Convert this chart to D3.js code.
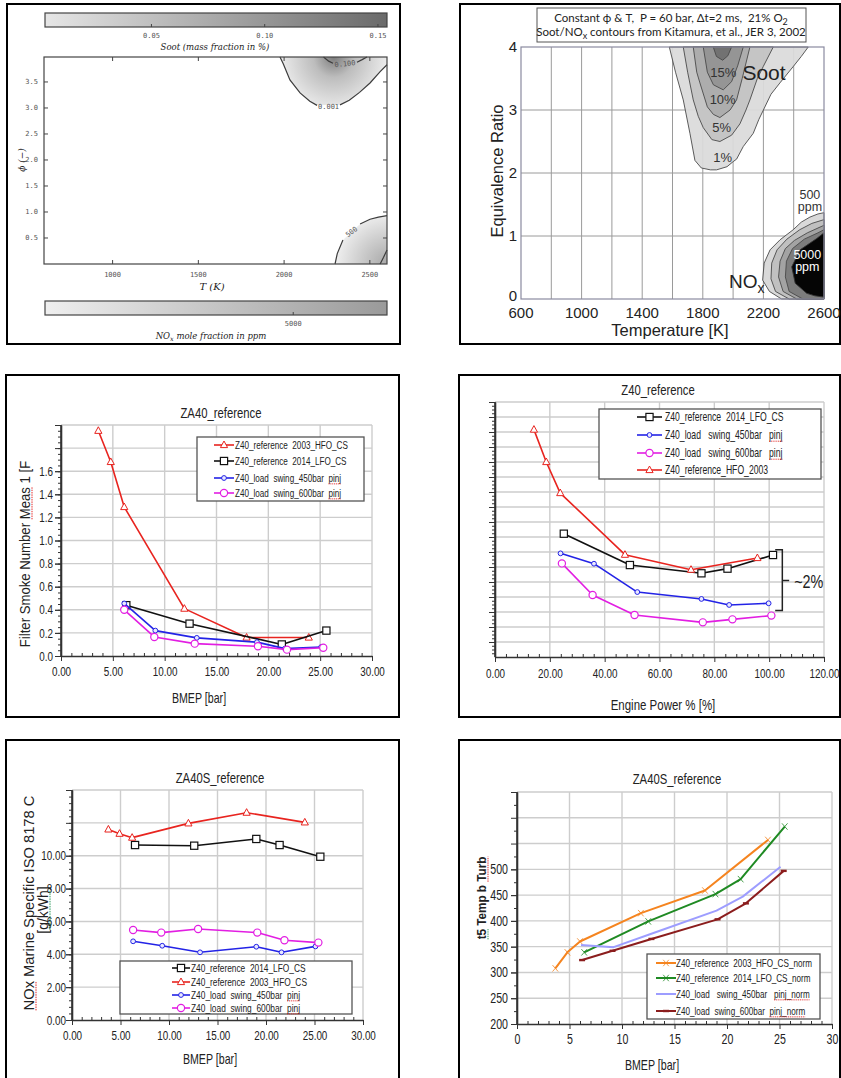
<!DOCTYPE html>
<html>
<head>
<meta charset="utf-8">
<script src="https://cdn.jsdelivr.net/npm/d3@7/dist/d3.min.js"></script>
<style>
  html,body{margin:0;padding:0;background:#fff;}
  svg{display:block;}
  text{white-space:pre;}
</style>
</head>
<body>
<svg id="fig" width="841" height="1078"></svg>
<script>
// ===================== DATA =====================

// --- model map: soot and NOx over temperature / equivalence ratio ---
const mapTempTicks = [1000, 1500, 2000, 2500];
const mapPhiTicks = [0.5, 1.0, 1.5, 2.0, 2.5, 3.0, 3.5];
const sootBarTicks = [0.05, 0.10, 0.15];
const noxBarTicks = [5000];
// contour 0.001 (two pieces around its label)
const soot001A = [[1976,3.98],[1995,3.85],[2034,3.54],[2093,3.29],[2150,3.13],[2192,3.05]];
const soot001B = [[2326,3.06],[2380,3.15],[2440,3.3],[2501,3.48],[2560,3.7],[2600,3.83]];
// contour 0.100
const soot100A = [[2230,3.98],[2260,3.9],[2285,3.86]];
const soot100B = [[2425,3.88],[2455,3.93],[2483,3.98]];
// NOx contours (ppm)
const nox500A = [[2297,0],[2310,0.2],[2343,0.46]];
const nox500B = [[2443,0.77],[2501,0.86],[2550,0.9],[2600,0.93]];
const nox5000 = [[2560,0],[2580,0.13],[2600,0.27]];

// --- Kitamura soot / NOx map ---
const kitTempTicks = [600, 1000, 1400, 1800, 2200, 2600];
const kitTempGrid = [800, 1000, 1200, 1400, 1600, 1800, 2000, 2200, 2400];
const kitPhiTicks = [0, 1, 2, 3, 4];
const kitSoot1 = [[1579,4],[1620,3.6],[1671,3.16],[1715,2.63],[1748,2.2],[1790,2.08],[1850,2.05],[1891,2.05],[1960,2.1],[2000,2.18],[2023,2.22],[2067,2.42],[2133,2.63],[2170,2.85],[2200,3.0],[2250,3.25],[2309,3.43],[2397,3.69],[2450,3.85],[2496,4]];
const kitSoot5 = [[1671,4],[1700,3.6],[1737,3.16],[1770,2.9],[1803,2.72],[1860,2.53],[1913,2.5],[1990,2.6],[2045,2.78],[2085,3.0],[2111,3.16],[2160,3.5],[2199,3.69],[2265,4]];
const kitSoot10 = [[1737,4],[1760,3.6],[1781,3.43],[1830,3.05],[1870,2.93],[1913,2.88],[1980,3.0],[2023,3.16],[2060,3.5],[2111,4]];
const kitSoot15 = [[1803,4],[1830,3.6],[1870,3.4],[1935,3.32],[1990,3.45],[2030,3.7],[2067,4]];
const kitSoot20 = [[1869,4],[1890,3.85],[1931,3.79],[1965,3.86],[1990,4]];
const kitNox1 = [[2320,0],[2240,0.12],[2195,0.3],[2205,0.57],[2244,0.78],[2310,0.94],[2397,1.1],[2450,1.22],[2507,1.3],[2560,1.35],[2600,1.37],[2600,0]];
const kitNox2 = [[2370,0],[2280,0.12],[2250,0.32],[2255,0.57],[2290,0.78],[2355,0.95],[2440,1.1],[2520,1.2],[2600,1.26],[2600,0]];
const kitNox3 = [[2420,0],[2330,0.12],[2300,0.35],[2310,0.6],[2345,0.8],[2405,0.93],[2490,1.05],[2600,1.17],[2600,0]];
const kitNox4 = [[2460,0],[2370,0.12],[2345,0.35],[2352,0.6],[2392,0.8],[2470,0.95],[2560,1.05],[2600,1.1],[2600,0]];
const kitNoxCore = [[2600,0.03],[2540,0.05],[2486,0.09],[2410,0.25],[2387,0.51],[2442,0.78],[2552,0.96],[2600,1.05]];

// --- filter smoke number vs BMEP ---
const bmepTicks = [0, 5, 10, 15, 20, 25, 30];
const fsnTicks = [0, 0.2, 0.4, 0.6, 0.8, 1.0, 1.2, 1.4, 1.6];
const fsnGrid = [0.2, 0.4, 0.6, 0.8, 1.0, 1.2, 1.4, 1.6, 1.8, 2.0];
const fsnHFO2003 = [[3.6,1.95],[4.8,1.68],[6.1,1.29],[11.9,0.41],[17.9,0.16],[23.9,0.16]];
const fsnLFO2014 = [[6.3,0.44],[12.4,0.28],[21.3,0.10],[25.6,0.22]];
const fsnLS450 = [[6.1,0.455],[9.1,0.22],[13.1,0.157],[18.9,0.12],[21.6,0.064],[25.1,0.078]];
const fsnLS600 = [[6.1,0.40],[9.0,0.165],[12.9,0.107],[19.0,0.084],[21.8,0.055],[25.3,0.072]];

// --- relative fuel consumption vs engine power (unlabelled axis, 0.5 % per grid step) ---
const powerTicks = [0, 20, 40, 60, 80, 100, 120];
const fcGrid = [1,2,3,4,5,6,7,8,9,10,11,12,13,14,15,16,17];
const fcLFO2014 = [[25.1,8.22],[49.2,6.13],[75.3,5.58],[84.8,5.89],[101.4,6.8]];
const fcLS450 = [[23.9,6.91],[36.1,6.22],[51.9,4.33],[75.3,3.87],[85.4,3.47],[99.8,3.58]];
const fcLS600 = [[24.4,6.24],[35.6,4.13],[50.9,2.8],[75.8,2.31],[86.6,2.51],[100.8,2.76]];
const fcHFO2003 = [[14.2,15.16],[18.7,13.0],[23.8,10.93],[47.4,6.82],[71.5,5.82],[95.7,6.6]];

// --- specific NOx vs BMEP ---
const noxTicks = [0, 2, 4, 6, 8, 10];
const noxGrid = [2, 4, 6, 8, 10, 12, 14];
const noxLFO2014 = [[6.5,10.65],[12.6,10.61],[19.0,11.02],[21.4,10.65],[25.6,9.94]];
const noxHFO2003 = [[3.75,11.6],[4.9,11.34],[6.2,11.1],[12.0,11.97],[18.0,12.62],[24.0,12.03]];
const noxLS450 = [[6.3,4.79],[9.3,4.52],[13.2,4.12],[19.0,4.46],[21.6,4.12],[25.1,4.48]];
const noxLS600 = [[6.3,5.48],[9.2,5.32],[13.0,5.54],[19.1,5.32],[21.9,4.85],[25.4,4.71]];

// --- turbine inlet temperature t5 vs BMEP ---
const t5Ticks = [200, 250, 300, 350, 400, 450, 500];
const t5Grid = [250, 300, 350, 400, 450, 500, 550, 600, 650];
const t5HFO2003 = [[3.65,308],[4.8,339],[6.0,360],[11.8,415],[17.9,459],[23.9,557]];
const t5LFO2014 = [[6.4,339],[12.5,399],[18.9,452],[21.3,481],[25.5,583]];
const t5LS450 = [[6.1,353],[9.2,349],[13.2,378],[19.0,420],[21.5,447],[25.1,505]];
const t5LS600 = [[6.2,324],[9.1,342],[12.8,365],[19.1,403],[21.8,434],[25.4,497]];

// ===================== DRAWING =====================
const svg = d3.select('#fig');
const SANS = "'Liberation Sans',Arial,sans-serif";
const GRID = '#cdcdcd';
const defs = svg.append('defs');

// panel frames
[[7,4,393,340],[460,4,380,340],[6,375,393,342],[459,375,381,342],[6,740,393,342],[459,740,381,342]]
  .forEach(([x,y,w,h]) => svg.append('rect').attr('x',x).attr('y',y).attr('width',w).attr('height',h)
    .attr('fill','none').attr('stroke','#000').attr('stroke-width',2));

// spell-check style underline below part of a text element
function squiggle(textSel, sub, color) {
  const node = textSel.node();
  const i = node.textContent.indexOf(sub);
  if (i < 0) return;
  const s = node.getStartPositionOfChar(i), e = node.getEndPositionOfChar(i + sub.length - 1);
  d3.select(node.parentNode).append('line')
    .attr('x1', s.x).attr('x2', e.x).attr('y1', s.y + 2).attr('y2', e.y + 2)
    .attr('stroke', color).attr('stroke-width', 1).attr('stroke-dasharray', '1.5,1');
}

// condensed text: regular face squeezed horizontally (optionally rotated)
function ntext(parent, x, y, str, o) {
  const gg = parent.append('g')
    .attr('transform', `translate(${x},${y})${o.rot ? ` rotate(${o.rot})` : ''} scale(${o.sx || 1},1)`);
  return gg.append('text').attr('text-anchor', o.anchor || 'start').attr('dy', o.dy || null)
    .attr('font-family', o.font || SANS).attr('font-size', o.size).attr('font-weight', o.weight || 'normal')
    .attr('fill', o.fill || '#222').text(str);
}

// ---------- Panel 1: model soot / NOx map ----------
(function(){
  const g = svg.append('g');
  const x = d3.scaleLinear().domain([600,2600]).range([44,387]);
  const y = d3.scaleLinear().domain([0,3.98]).range([264,57]);
  const line = d3.line().x(d=>x(d[0])).y(d=>y(d[1]));

  const sg = defs.append('radialGradient').attr('id','sootFill').attr('gradientUnits','userSpaceOnUse')
    .attr('cx', x(2290)).attr('cy', y(3.98)).attr('r', 58);
  sg.append('stop').attr('offset',0).attr('stop-color','#7c7c7c');
  sg.append('stop').attr('offset',0.35).attr('stop-color','#bdbdbd');
  sg.append('stop').attr('offset',1).attr('stop-color','#f2f2f2');
  const ng = defs.append('radialGradient').attr('id','noxFill').attr('gradientUnits','userSpaceOnUse')
    .attr('cx', x(2600)).attr('cy', y(0)).attr('r', 55);
  ng.append('stop').attr('offset',0).attr('stop-color','#a8a8a8');
  ng.append('stop').attr('offset',1).attr('stop-color','#f4f4f4');
  const cb1 = defs.append('linearGradient').attr('id','cbSoot');
  cb1.append('stop').attr('offset',0).attr('stop-color','#e6e6e6');
  cb1.append('stop').attr('offset',1).attr('stop-color','#6a6a6a');
  const cb2 = defs.append('linearGradient').attr('id','cbNox');
  cb2.append('stop').attr('offset',0).attr('stop-color','#efefef');
  cb2.append('stop').attr('offset',1).attr('stop-color','#9a9a9a');

  g.append('path').attr('d', line([...soot001A, ...soot001B, [2600,3.98], [1976,3.98]]) + 'Z')
    .attr('fill','url(#sootFill)');
  g.append('path').attr('d', line([...nox500A, ...nox500B, [2600,0], [2297,0]]) + 'Z')
    .attr('fill','url(#noxFill)');
  [soot001A, soot001B, soot100A, soot100B, nox500A, nox500B, nox5000].forEach(c =>
    g.append('path').attr('d', line(c)).attr('fill','none').attr('stroke','#3c3c3c').attr('stroke-width',1.2));

  const mono = "'DejaVu Sans Mono',monospace";
  const lab = (t, tx, ty, rot) => g.append('text').attr('transform',`translate(${x(tx)},${y(ty)}) rotate(${rot})`)
    .attr('text-anchor','middle').attr('dy','0.35em').attr('font-family',mono)
    .attr('font-size',7).attr('fill','#555').text(t);
  lab('0.001', 2259, 3.03, 0);
  lab('0.100', 2355, 3.85, -6);
  lab('500', 2393, 0.62, -38);

  // frame with inward ticks on all sides
  g.append('rect').attr('x',44).attr('y',57).attr('width',343).attr('height',207)
    .attr('fill','none').attr('stroke','#444').attr('stroke-width',1.2);
  mapTempTicks.forEach(t => {
    g.append('line').attr('x1',x(t)).attr('x2',x(t)).attr('y1',264).attr('y2',260).attr('stroke','#444');
    g.append('line').attr('x1',x(t)).attr('x2',x(t)).attr('y1',57).attr('y2',61).attr('stroke','#444');
  });
  mapPhiTicks.forEach(p => {
    g.append('line').attr('x1',44).attr('x2',48).attr('y1',y(p)).attr('y2',y(p)).attr('stroke','#444');
    g.append('line').attr('x1',387).attr('x2',383).attr('y1',y(p)).attr('y2',y(p)).attr('stroke','#444');
  });
  g.selectAll('.xt').data(mapTempTicks).join('text').attr('x',d=>x(d)).attr('y',277)
    .attr('text-anchor','middle').attr('font-family',mono).attr('font-size',7).attr('fill','#555').text(d=>d);
  g.selectAll('.yt').data(mapPhiTicks).join('text').attr('x',38).attr('y',d=>y(d)).attr('dy','0.35em')
    .attr('text-anchor','end').attr('font-family',mono).attr('font-size',7).attr('fill','#555').text(d=>d.toFixed(1));

  const serif = "'DejaVu Serif','Liberation Serif',serif";
  g.append('text').attr('x',212).attr('y',290).attr('text-anchor','middle').attr('font-family',serif)
    .attr('font-style','italic').attr('font-size',10).attr('fill','#222').text('T (K)');
  g.append('text').attr('transform','translate(25,160) rotate(-90)').attr('text-anchor','middle')
    .attr('font-family',serif).attr('font-style','italic').attr('font-size',9).attr('fill','#222').text('ϕ (−)');

  // colour bars
  const cbS = d3.scaleLinear().domain([0.003,0.154]).range([45,387]);
  g.append('rect').attr('x',45).attr('y',13).attr('width',342).attr('height',14)
    .attr('fill','url(#cbSoot)').attr('stroke','#444').attr('stroke-width',1.2);
  sootBarTicks.forEach(v => {
    g.append('line').attr('x1',cbS(v)).attr('x2',cbS(v)).attr('y1',27).attr('y2',24).attr('stroke','#444');
    g.append('text').attr('x',cbS(v)).attr('y',38).attr('text-anchor','middle').attr('font-family',mono)
      .attr('font-size',7).attr('fill','#555').text(v.toFixed(2));
  });
  g.append('text').attr('x',215).attr('y',50).attr('text-anchor','middle').attr('font-family',serif)
    .attr('font-style','italic').attr('font-size',8.5).attr('fill','#222').text('Soot (mass fraction in %)');

  const cbN = d3.scaleLinear().domain([500,6700]).range([45,387]);
  g.append('rect').attr('x',45).attr('y',301).attr('width',342).attr('height',14)
    .attr('fill','url(#cbNox)').attr('stroke','#444').attr('stroke-width',1.2);
  noxBarTicks.forEach(v => {
    g.append('line').attr('x1',cbN(v)).attr('x2',cbN(v)).attr('y1',315).attr('y2',312).attr('stroke','#444');
    g.append('text').attr('x',cbN(v)).attr('y',326).attr('text-anchor','middle').attr('font-family',mono)
      .attr('font-size',7).attr('fill','#555').text(v);
  });
  const nt = g.append('text').attr('x',211).attr('y',339).attr('text-anchor','middle').attr('font-family',serif)
    .attr('font-style','italic').attr('font-size',8.5).attr('fill','#222');
  nt.append('tspan').text('NO');
  nt.append('tspan').attr('dy',2).attr('font-size',6.5).text('x');
  nt.append('tspan').attr('dy',-2).text(' mole fraction in ppm');
})();

// ---------- Panel 2: Kitamura soot / NOx contours ----------
(function(){
  const g = svg.append('g');
  const x = d3.scaleLinear().domain([600,2600]).range([521,824]);
  const y = d3.scaleLinear().domain([0,4]).range([299,47]);
  const line = d3.line().x(d=>x(d[0])).y(d=>y(d[1]));

  g.selectAll('.gx').data(kitTempGrid).join('line').attr('x1',d=>x(d)).attr('x2',d=>x(d))
    .attr('y1',47).attr('y2',299).attr('stroke','#9a9a9a').attr('stroke-width',1);
  g.selectAll('.gy').data([1,2,3]).join('line').attr('y1',d=>y(d)).attr('y2',d=>y(d))
    .attr('x1',521).attr('x2',824).attr('stroke','#9a9a9a').attr('stroke-width',1);

  const fills = [[kitSoot1,'#dadada'],[kitSoot5,'#c3c3c3'],[kitSoot10,'#ababab'],[kitSoot15,'#939393'],[kitSoot20,'#6f6f6f'],
                 [kitNox1,'#d6d6d6'],[kitNox2,'#bdbdbd'],[kitNox3,'#a0a0a0'],[kitNox4,'#7a7a7a']];
  fills.forEach(([p,c]) => g.append('path').attr('d', line(p)+'Z').attr('fill',c).attr('fill-opacity',0.93)
    .attr('stroke','#4a4a4a').attr('stroke-width',0.9));
  g.append('path').attr('d', line([...kitNoxCore,[2600,0.03]])+'Z').attr('fill','#050505')
    .attr('stroke','#333').attr('stroke-width',0.9);

  g.append('rect').attr('x',521).attr('y',47).attr('width',303).attr('height',252)
    .attr('fill','none').attr('stroke','#8a8aa0').attr('stroke-width',1.2);

  const txt = (t, tx, ty, size, color) => g.append('text').attr('x',x(tx)).attr('y',y(ty)).attr('dy','0.35em')
    .attr('text-anchor','middle').attr('font-family',SANS).attr('font-size',size).attr('fill',color).text(t);
  txt('15%', 1935, 3.6, 13, '#333');
  txt('10%', 1931, 3.17, 13, '#333');
  txt('5%', 1925, 2.72, 13, '#333');
  txt('1%', 1931, 2.25, 13, '#333');
  txt('Soot', 2204, 3.6, 21, '#222');
  txt('500', 2507, 1.66, 12.5, '#333');
  txt('ppm', 2507, 1.46, 12.5, '#333');
  txt('5000', 2490, 0.70, 12.5, '#fff');
  txt('ppm', 2490, 0.51, 12.5, '#fff');
  const nox = g.append('text').attr('x',x(2090)).attr('y',y(0.28)).attr('dy','0.35em').attr('text-anchor','middle')
    .attr('font-family',SANS).attr('font-size',19).attr('fill','#222');
  nox.append('tspan').text('NO');
  nox.append('tspan').attr('dy',5).attr('font-size',14).text('x');

  g.selectAll('.xl').data(kitTempTicks).join('text').attr('x',d=>x(d)).attr('y',318)
    .attr('text-anchor','middle').attr('font-family',SANS).attr('font-size',15).attr('fill','#222').text(d=>d);
  g.selectAll('.yl').data(kitPhiTicks).join('text').attr('x',517).attr('y',d=>y(d) - (d === 0 ? 3 : 0)).attr('dy','0.3em')
    .attr('text-anchor','end').attr('font-family',SANS).attr('font-size',15).attr('fill','#222').text(d=>d);
  g.append('text').attr('x',670).attr('y',336).attr('text-anchor','middle').attr('font-family',SANS)
    .attr('font-size',16.5).attr('fill','#222').text('Temperature [K]');
  g.append('text').attr('transform','translate(503,171) rotate(-90)').attr('text-anchor','middle')
    .attr('font-family',SANS).attr('font-size',16.5).attr('fill','#222').text('Equivalence Ratio');

  // header box
  g.append('rect').attr('x',537).attr('y',8).attr('width',269).attr('height',34)
    .attr('fill','#fff').attr('stroke','#555').attr('stroke-width',1);
  const hf = "Lato,'Liberation Sans',sans-serif";
  const h1 = g.append('text').attr('x',671).attr('y',22).attr('text-anchor','middle').attr('font-family',hf)
    .attr('font-size',11.5).attr('fill','#222');
  h1.append('tspan').text('Constant ϕ & T,  P = 60 bar, Δt=2 ms,  21% O');
  h1.append('tspan').attr('dy',3).attr('font-size',9).text('2');
  const h2 = g.append('text').attr('x',671).attr('y',36).attr('text-anchor','middle').attr('font-family',hf)
    .attr('font-size',11.5).attr('fill','#222');
  h2.append('tspan').text('Soot/NO');
  h2.append('tspan').attr('dy',3).attr('font-size',9).text('x');
  h2.append('tspan').attr('dy',-3).text(' contours from Kitamura, et al., JER 3, 2002');
})();

// ---------- generic measured-data line chart ----------
function marker(sel, type, color) {
  if (type === 'tri') sel.append('path').attr('d','M0,-4L3.6,2.6L-3.6,2.6Z').attr('fill','#fff').attr('stroke',color).attr('stroke-width',1);
  else if (type === 'sq') sel.append('rect').attr('x',-3.6).attr('y',-3.6).attr('width',7.2).attr('height',7.2).attr('fill','#fff').attr('stroke',color).attr('stroke-width',1.2);
  else if (type === 'dot') sel.append('circle').attr('r',2.4).attr('fill','#e8e8ff').attr('stroke',color).attr('stroke-width',1);
  else if (type === 'circ') sel.append('circle').attr('r',3.6).attr('fill','#fff').attr('stroke',color).attr('stroke-width',1.2);
  else if (type === 'x') sel.append('path').attr('d','M-2.8,-3.2L2.8,3.2M-2.8,3.2L2.8,-3.2').attr('stroke',color).attr('stroke-width',1).attr('opacity',0.8);
  else if (type === 'dash') sel.append('path').attr('d','M-3,0L3,0').attr('stroke',color).attr('stroke-width',2.4);
}

const TICK_SX = 0.76;

function lineChart(c) {
  const g = svg.append('g');
  const x = d3.scaleLinear().domain(c.xDomain).range([c.left, c.right]);
  const y = d3.scaleLinear().domain(c.yDomain).range([c.bottom, c.top]);

  g.selectAll('.gx').data(c.xTicks.slice(1)).join('line').attr('x1',d=>x(d)).attr('x2',d=>x(d))
    .attr('y1',c.top).attr('y2',c.bottom).attr('stroke',GRID).attr('stroke-width',1.4);
  g.selectAll('.gy').data(c.yGrid).join('line').attr('y1',d=>y(d)).attr('y2',d=>y(d))
    .attr('x1',c.left).attr('x2',c.right).attr('stroke',GRID).attr('stroke-width',1.4);

  const clean = a => { a.select('.domain').remove(); a.selectAll('line').attr('stroke','#333'); };
  // minor ticks
  g.append('g').attr('transform',`translate(0,${c.bottom})`)
    .call(d3.axisTop(x).tickValues(c.xMinor).tickSize(3).tickFormat('')).call(clean);
  g.append('g').attr('transform',`translate(${c.left},0)`)
    .call(d3.axisLeft(y).tickValues(c.yMinor).tickSize(3).tickFormat('')).call(clean);
  g.append('g').attr('transform',`translate(${c.left},0)`)
    .call(d3.axisLeft(y).tickValues(c.yGrid).tickSize(6).tickFormat('')).call(clean);
  // labelled axes
  const ax = g.append('g').attr('transform',`translate(0,${c.bottom})`)
    .call(d3.axisBottom(x).tickValues(c.xTicks).tickFormat(c.xFmt).tickSize(5).tickSizeOuter(0));
  ax.select('.domain').attr('stroke','#333').attr('stroke-width',1.6);
  ax.selectAll('line').attr('stroke','#333');
  ax.selectAll('text').attr('font-family',SANS).attr('font-size',c.tickSize).attr('fill','#222')
    .attr('dy',null).attr('y',c.xTickY - c.bottom).attr('transform',`scale(${TICK_SX},1)`);
  const ay = g.append('g').attr('transform',`translate(${c.left},0)`)
    .call(d3.axisLeft(y).tickValues(c.yTicks).tickFormat(c.yFmt).tickSize(6).tickSizeOuter(0));
  ay.select('.domain').attr('stroke','#333').attr('stroke-width',1.6);
  ay.selectAll('line').attr('stroke','#333');
  ay.selectAll('text').attr('font-family',SANS).attr('font-size',c.tickSize).attr('fill','#222')
    .attr('x',0).attr('transform',`translate(${c.yTickX - c.left},0) scale(${TICK_SX},1)`);
  g.append('line').attr('x1',c.left).attr('x2',c.left).attr('y1',c.top).attr('y2',c.bottom)
    .attr('stroke','#333').attr('stroke-width',1.6);

  // series
  const line = d3.line().x(d=>x(d[0])).y(d=>y(d[1]));
  c.series.forEach(s => {
    g.append('path').attr('d', line(s.data)).attr('fill','none').attr('stroke',s.color)
      .attr('stroke-width',s.width || 1.6).attr('stroke-linejoin','round');
    if (s.marker) s.data.forEach(d => marker(g.append('g').attr('transform',`translate(${x(d[0])},${y(d[1])})`), s.marker, s.color));
  });

  // title and axis titles
  ntext(g, c.titleX, c.titleY, c.title, {anchor:'middle', size:14.5, sx:0.78});
  ntext(g, c.xLabelX, c.xLabelY, c.xLabel, {anchor:'middle', size:14, sx:c.xLabelSx || 0.76});
  c.yLabels.forEach(l => {
    const t = ntext(g, l.x, l.y, l.text, {anchor:'middle', size:l.size, weight:l.weight, rot:-90, sx:l.sx || 1});
    (l.marks || []).forEach(([sub,col]) => squiggle(t, sub, col));
  });

  // legend
  const L = c.legend;
  g.append('rect').attr('x',L.x0).attr('y',L.y0).attr('width',L.x1-L.x0).attr('height',L.y1-L.y0)
    .attr('fill','#fff').attr('stroke','#555').attr('stroke-width',1.3);
  L.rows.forEach((r, i) => {
    const s = c.series[r.series];
    const yy = L.ys[i];
    g.append('line').attr('x1',L.lx0).attr('x2',L.lx1).attr('y1',yy).attr('y2',yy)
      .attr('stroke',s.color).attr('stroke-width',s.width || 1.6);
    if (s.marker) marker(g.append('g').attr('transform',`translate(${(L.lx0+L.lx1)/2},${yy})`), s.marker, s.color);
    const t = ntext(g, L.tx, yy, r.text, {size:L.size, dy:'0.35em', sx:L.sx});
    if (r.mark) squiggle(t, r.mark, '#e02020');
  });
  return {g, x, y};
}

const RED = '#e8241f', BLACK = '#111', BLUE = '#2323e6', MAGENTA = '#e21ee2';
const f2 = d3.format('.2f'), f1 = d3.format('.1f');

// ---------- Panel 3: filter smoke number ----------
lineChart({
  left:61, right:372, top:425, bottom:656, xDomain:[0,30], yDomain:[0,2.0],
  xTicks:bmepTicks, xMinor:d3.range(1,30).filter(v=>v%5), xFmt:f2, xTickY:676,
  yTicks:fsnTicks, yGrid:fsnGrid, yMinor:d3.range(0.05,2.0,0.05), yFmt:f1, yTickX:53,
  tickSize:13,
  title:'ZA40_reference', titleX:221, titleY:418,
  xLabel:'BMEP [bar]', xLabelX:199, xLabelY:703,
  yLabels:[{text:'Filter Smoke Number Meas 1 [F', x:30, y:554, size:14, sx:0.94, marks:[['Meas','#e02020']]}],
  series:[
    {data:fsnHFO2003, color:RED, marker:'tri'},
    {data:fsnLFO2014, color:BLACK, marker:'sq'},
    {data:fsnLS450, color:BLUE, marker:'dot'},
    {data:fsnLS600, color:MAGENTA, marker:'circ'}
  ],
  legend:{x0:197, y0:437, x1:364, y1:501, lx0:214, lx1:234, tx:235, size:11, sx:0.74, ys:[445,461,478,493],
    rows:[{series:0,text:'Z40_reference  2003_HFO_CS'},{series:1,text:'Z40_reference  2014_LFO_CS'},
          {series:2,text:'Z40_load  swing_450bar  pinj',mark:'pinj'},{series:3,text:'Z40_load  swing_600bar  pinj',mark:'pinj'}]}
});

// ---------- Panel 4: fuel consumption vs engine power ----------
(function(){
  const r = lineChart({
    left:495, right:824, top:402, bottom:657, xDomain:[0,120], yDomain:[0,17],
    xTicks:powerTicks, xMinor:d3.range(4,120,4).filter(v=>v%20), xFmt:f2, xTickY:678,
    yTicks:[], yGrid:fcGrid, yMinor:d3.range(0.25,17,0.25), yFmt:f1, yTickX:487,
    tickSize:13,
    title:'Z40_reference', titleX:658, titleY:395,
    xLabel:'Engine Power % [%]', xLabelX:663, xLabelY:710, xLabelSx:0.82,
    yLabels:[],
    series:[
      {data:fcLFO2014, color:BLACK, marker:'sq'},
      {data:fcLS450, color:BLUE, marker:'dot'},
      {data:fcLS600, color:MAGENTA, marker:'circ'},
      {data:fcHFO2003, color:RED, marker:'tri'}
    ],
    legend:{x0:599, y0:409, x1:821, y1:479, lx0:637, lx1:662, tx:665, size:12, sx:0.72, ys:[417,435,453,470],
      rows:[{series:0,text:'Z40_reference  2014_LFO_CS'},{series:1,text:'Z40_load   swing_450bar   pinj',mark:'pinj'},
            {series:2,text:'Z40_load   swing_600bar   pinj',mark:'pinj'},{series:3,text:'Z40_reference_HFO_2003'}]}
  });
  const {g, x, y} = r;
  // bracket marking the ~2 % spread at full load
  const bx0 = x(102.2), bx1 = x(104.8), bxn = x(107.3), yt = y(7.15), yb = y(3.1), ym = y(5.1);
  g.append('path').attr('d',`M${bx0},${yt}L${bx1},${yt}L${bx1},${yb}L${bx0},${yb}M${bx1},${ym}L${bxn},${ym}`)
    .attr('fill','none').attr('stroke','#222').attr('stroke-width',1.5);
  ntext(g, bxn + 5, ym, '~2%', {size:18, dy:'0.4em', sx:0.8});
})();

// ---------- Panel 5: specific NOx ----------
lineChart({
  left:72, right:363, top:790, bottom:1020, xDomain:[0,30], yDomain:[0,14],
  xTicks:bmepTicks, xMinor:d3.range(1,30).filter(v=>v%5), xFmt:f2, xTickY:1040,
  yTicks:noxTicks, yGrid:noxGrid, yMinor:d3.range(0.4,14,0.4), yFmt:f2, yTickX:66,
  tickSize:13,
  title:'ZA40S_reference', titleX:220, titleY:783,
  xLabel:'BMEP [bar]', xLabelX:210, xLabelY:1064,
  yLabels:[{text:'NOx Marine Specific ISO 8178 C', x:34, y:903, size:15, sx:0.98, marks:[['NOx','#e02020']]},
           {text:'[g/kWh]', x:48, y:910, size:14, marks:[['g/kWh','#2a9a5a']]}],
  series:[
    {data:noxLFO2014, color:BLACK, marker:'sq'},
    {data:noxHFO2003, color:RED, marker:'tri'},
    {data:noxLS450, color:BLUE, marker:'dot'},
    {data:noxLS600, color:MAGENTA, marker:'circ'}
  ],
  legend:{x0:120, y0:961, x1:352, y1:1014, lx0:172, lx1:190, tx:191, size:11, sx:0.76, ys:[968,982,995,1008],
    rows:[{series:0,text:'Z40_reference  2014_LFO_CS'},{series:1,text:'Z40_reference  2003_HFO_CS'},
          {series:2,text:'Z40_load  swing_450bar  pinj',mark:'pinj'},{series:3,text:'Z40_load  swing_600bar  pinj',mark:'pinj'}]}
});

// ---------- Panel 6: turbine inlet temperature ----------
lineChart({
  left:517, right:832, top:792, bottom:1024, xDomain:[0,30], yDomain:[200,650],
  xTicks:bmepTicks, xMinor:d3.range(1,30).filter(v=>v%5), xFmt:d3.format('d'), xTickY:1044,
  yTicks:t5Ticks, yGrid:t5Grid, yMinor:d3.range(225,650,50), yFmt:d3.format('d'), yTickX:508,
  tickSize:14,
  title:'ZA40S_reference', titleX:677, titleY:784,
  xLabel:'BMEP [bar]', xLabelX:652, xLabelY:1070,
  yLabels:[{text:'t5 Temp b Turb', x:486, y:898, size:13, weight:'bold', sx:0.9, marks:[['t5','#2a9a5a'],['Turb','#e02020']]}],
  series:[
    {data:t5HFO2003, color:'#f5841f', marker:'x', width:2},
    {data:t5LFO2014, color:'#1f8a23', marker:'x', width:2},
    {data:t5LS450, color:'#9d9dff', width:2},
    {data:t5LS600, color:'#8b1d1d', marker:'dash', width:2}
  ],
  legend:{x0:647, y0:954, x1:820, y1:1019, lx0:656, lx1:676, tx:676, size:11, sx:0.74, ys:[963,978,994,1011],
    rows:[{series:0,text:'Z40_reference  2003_HFO_CS_norm'},{series:1,text:'Z40_reference  2014_LFO_CS_norm'},
          {series:2,text:'Z40_load   swing_450bar   pinj_norm',mark:'pinj_norm'},{series:3,text:'Z40_load  swing_600bar  pinj_norm',mark:'pinj_norm'}]}
});
</script>
</body>
</html>
